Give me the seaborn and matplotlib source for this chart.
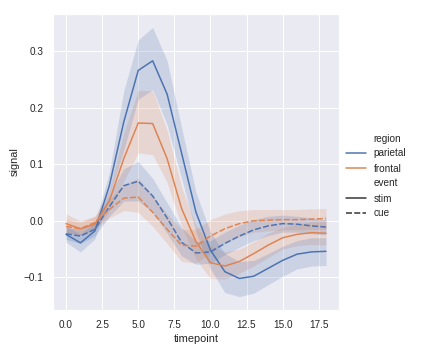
import numpy as np
import pandas as pd
import matplotlib
matplotlib.use("Agg")
import matplotlib.pyplot as plt
import seaborn as sns

timepoints = list(range(19))

parietal_stim = [-0.024, -0.039, -0.018, 0.062, 0.175, 0.266, 0.283, 0.224, 0.120, 0.015, -0.052, -0.090, -0.102, -0.098, -0.084, -0.070, -0.059, -0.055, -0.054]
parietal_stim_lo = [-0.038, -0.055, -0.032, 0.042, 0.125, 0.215, 0.232, 0.170, 0.075, -0.020, -0.085, -0.127, -0.134, -0.128, -0.113, -0.098, -0.085, -0.080, -0.079]
parietal_stim_hi = [-0.010, -0.023, -0.004, 0.085, 0.230, 0.320, 0.342, 0.283, 0.165, 0.050, -0.020, -0.058, -0.072, -0.070, -0.058, -0.045, -0.035, -0.030, -0.030]

frontal_stim = [-0.005, -0.014, -0.006, 0.035, 0.110, 0.173, 0.172, 0.110, 0.022, -0.037, -0.074, -0.080, -0.072, -0.058, -0.043, -0.030, -0.024, -0.021, -0.022]
frontal_stim_lo = [-0.020, -0.026, -0.018, 0.018, 0.070, 0.120, 0.117, 0.068, -0.010, -0.068, -0.102, -0.103, -0.093, -0.080, -0.065, -0.050, -0.044, -0.042, -0.043]
frontal_stim_hi = [0.012, 0.000, 0.008, 0.055, 0.155, 0.231, 0.230, 0.160, 0.060, -0.008, -0.045, -0.055, -0.050, -0.037, -0.022, -0.012, -0.006, -0.002, -0.002]

parietal_cue = [-0.023, -0.027, -0.015, 0.025, 0.062, 0.070, 0.044, 0.005, -0.038, -0.057, -0.055, -0.040, -0.027, -0.016, -0.009, -0.005, -0.006, -0.009, -0.011]
parietal_cue_lo = [-0.033, -0.040, -0.027, 0.008, 0.035, 0.035, 0.015, -0.022, -0.062, -0.077, -0.075, -0.060, -0.047, -0.035, -0.026, -0.020, -0.020, -0.023, -0.025]
parietal_cue_hi = [-0.012, -0.014, -0.002, 0.045, 0.092, 0.105, 0.075, 0.032, -0.012, -0.036, -0.035, -0.020, -0.008, 0.002, 0.008, 0.010, 0.008, 0.005, 0.002]

frontal_cue = [-0.010, -0.014, -0.003, 0.020, 0.040, 0.042, 0.015, -0.015, -0.043, -0.045, -0.027, -0.014, -0.005, 0.000, 0.001, 0.002, 0.002, 0.003, 0.004]
frontal_cue_lo = [-0.022, -0.025, -0.014, 0.005, 0.018, 0.015, -0.010, -0.040, -0.072, -0.075, -0.057, -0.040, -0.028, -0.020, -0.018, -0.016, -0.016, -0.015, -0.015]
frontal_cue_hi = [0.002, -0.003, 0.008, 0.038, 0.065, 0.075, 0.045, 0.012, -0.015, -0.015, 0.002, 0.012, 0.018, 0.020, 0.020, 0.020, 0.020, 0.021, 0.022]

regions = ["parietal", "frontal"]
events = ["stim", "cue"]

series = {
    ("parietal", "stim"): (parietal_stim, parietal_stim_lo, parietal_stim_hi),
    ("frontal", "stim"): (frontal_stim, frontal_stim_lo, frontal_stim_hi),
    ("parietal", "cue"): (parietal_cue, parietal_cue_lo, parietal_cue_hi),
    ("frontal", "cue"): (frontal_cue, frontal_cue_lo, frontal_cue_hi),
}

rows = []
for (reg, ev), (m, lo, hi) in series.items():
    for t, v, l, h in zip(timepoints, m, lo, hi):
        rows.append({"timepoint": t, "signal": v, "lo": l, "hi": h, "region": reg, "event": ev})
df = pd.DataFrame(rows)

sns.set_theme(style="darkgrid")
plt.rcParams.update({"axes.labelsize": 11, "xtick.labelsize": 10, "ytick.labelsize": 10,
                     "legend.fontsize": 10})
plt.rcParams["font.family"] = ["Liberation Sans", "DejaVu Sans"]
palette = dict(zip(regions, sns.color_palette("deep", 2)))

fig = plt.figure(figsize=(422 / 72, 352 / 72), dpi=72)
ax = fig.add_axes([53 / 422, (352 - 310) / 352, (339 - 53) / 422, 296 / 352])

for (reg, ev), g in df.groupby(["region", "event"]):
    ax.fill_between(g["timepoint"], g["lo"], g["hi"], color=palette[reg], alpha=0.2, linewidth=0)

sns.lineplot(data=df, x="timepoint", y="signal", hue="region", style="event",
             hue_order=regions, style_order=events, palette=palette,
             errorbar=None, ax=ax)

sns.move_legend(ax, "center left", bbox_to_anchor=(0.798, 0.5),
                bbox_transform=fig.transFigure, frameon=False, title=None)

fig.savefig("out.png", dpi=72)
